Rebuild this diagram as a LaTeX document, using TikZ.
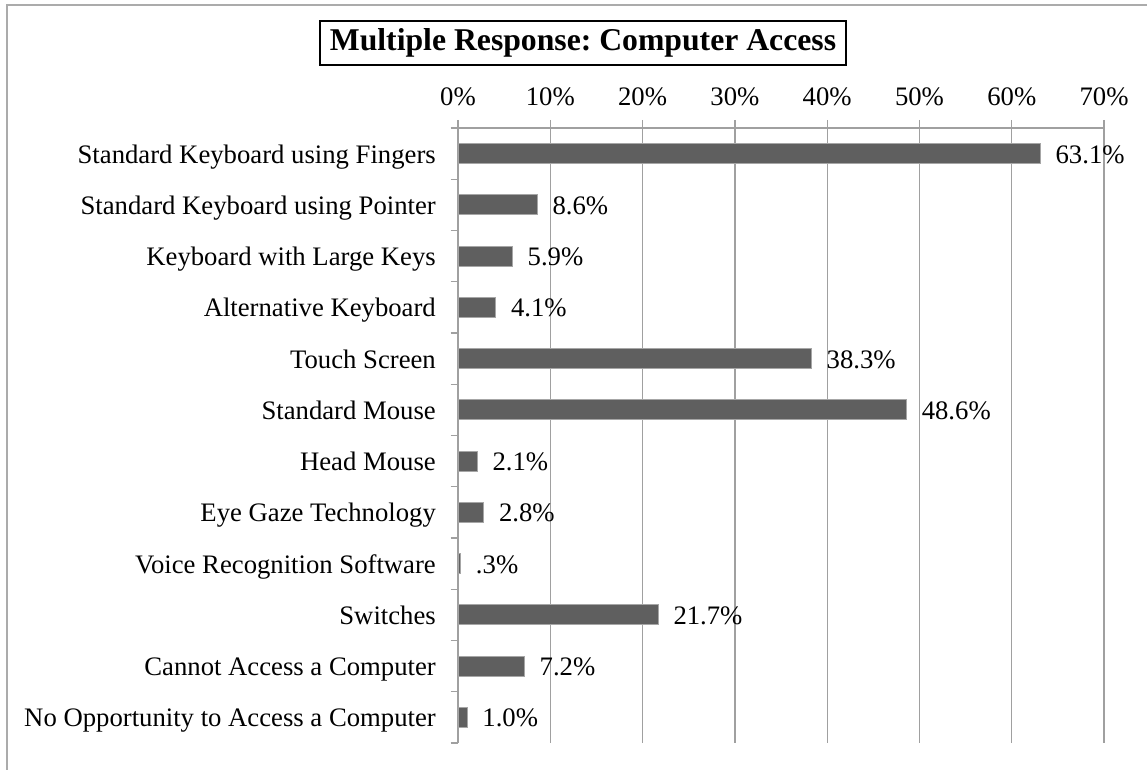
\documentclass[tikz,border=0pt]{standalone}
\usepackage{fontspec}
\setmainfont{Liberation Serif}
\frenchspacing
\usepackage{tikz}
\usetikzlibrary{positioning}
\definecolor{chartbar}{HTML}{5F5F5F}
\definecolor{chartedge}{HTML}{A6A6A6}
\definecolor{chartgrid}{HTML}{A0A0A0}
\definecolor{chartframe}{HTML}{ABABAB}
\tikzstyle{bar} = [fill=chartbar, draw=chartedge, line width=0.8pt]
\tikzstyle{gridline} = [draw=chartgrid, line width=1.3pt]
\tikzstyle{catlabel} = [anchor=base east, inner sep=0pt, font=\fontsize{26.7}{30}\selectfont]
\tikzstyle{vallabel} = [anchor=base west, inner sep=0pt, font=\fontsize{26.7}{30}\selectfont]
\tikzstyle{ticklabel} = [anchor=base, inner sep=0pt, font=\fontsize{26.7}{30}\selectfont]
\tikzstyle{titlebox} = [draw, line width=1.6pt, inner sep=0pt, minimum width=526pt,
    minimum height=44pt, font=\bfseries\fontsize{31.7}{36}\selectfont]

\begin{document}
\begin{tikzpicture}[x=1pt, y=-1pt]
\useasboundingbox (0,0) rectangle (1147,770);
\draw[chartframe, line width=1.5pt] (7,770) -- (7,5) -- (1147,5);

\node[titlebox] (title) at (583,43) {Multiple Response: Computer Access};

\foreach \p/\t in {0/0,1/10,2/20,3/30,4/40,5/50,6/60,7/70} {
  \draw[gridline] ({458+92.3*\p},120) -- ({458+92.3*\p},743);
  \node[ticklabel] (tick\p) at ({458+92.3*\p},106) {\t\%};
}
\draw[gridline] (450.7,128) -- (1104,128);
\foreach \k in {1,...,12}
  \draw[gridline] (450.7,{128+51.25*\k}) -- (458,{128+51.25*\k});

\foreach \v/\name [count=\i] in {63.1/Standard Keyboard using Fingers,
    8.6/Standard Keyboard using Pointer, 5.9/Keyboard with Large Keys,
    4.1/Alternative Keyboard, 38.3/Touch Screen, 48.6/Standard Mouse,
    2.1/Head Mouse, 2.8/Eye Gaze Technology, .3/Voice Recognition Software,
    21.7/Switches, 7.2/Cannot Access a Computer,
    1.0/No Opportunity to Access a Computer} {
  \draw[bar] (458,{128+51.25*(\i-0.5)-10}) rectangle ({458+9.23*\v},{128+51.25*(\i-0.5)+10});
  \node[catlabel] (cat\i) at (436,{128+51.25*(\i-0.5)+9.5}) {\name};
  \node[vallabel] (val\i) at ({458+9.23*\v+15},{128+51.25*(\i-0.5)+9.5}) {\v\%};
}
\end{tikzpicture}
\end{document}
